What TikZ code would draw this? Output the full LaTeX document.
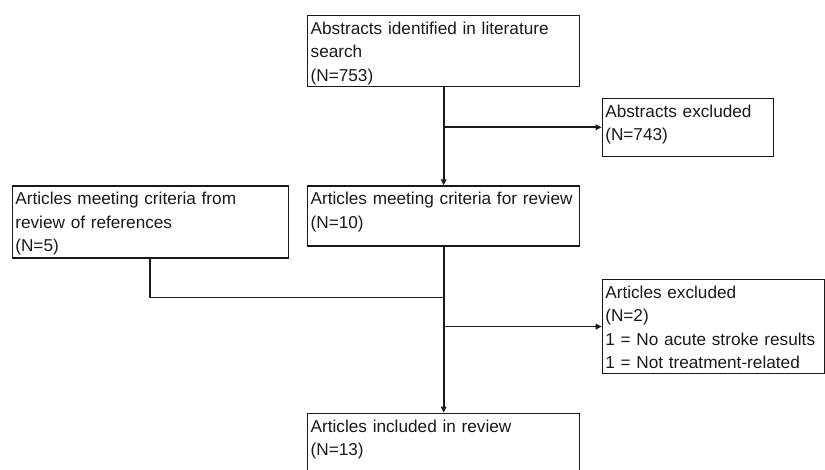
\documentclass[tikz,border=0pt]{standalone}
\usepackage{fontspec}
\setmainfont{Liberation Sans}
\usetikzlibrary{arrows.meta,positioning}
\definecolor{FlowInk}{gray}{0.1}
\hyphenpenalty=10000

\begin{document}
\begin{tikzpicture}[
  x=1pt,y=1pt,
  stage/.style={draw=FlowInk,line width=1.3pt,text=FlowInk,align=left,inner xsep=3pt,inner ysep=0pt,text height=19pt,font=\fontsize{17.2}{23.3}\selectfont},
  link/.style={line width=1.8pt,draw=FlowInk},
  arrow/.style={link,-{Triangle[length=6pt,width=5.5pt]}},
  node distance=98pt and 18pt]
  \clip (0,0) rectangle (825,-470);
  \node[stage,text width=266pt,text depth=52pt,anchor=north west] (found) at (307,-15) {Abstracts identified in literature\\search\\(N=753)};
  \node[stage,text width=266pt,text depth=41pt,below=of found] (review) {Articles meeting criteria for review\\(N=10)};
  \node[stage,text width=266pt,text depth=90pt,below=166pt of review] (included) {Articles included in review\\(N=13)};
  \node[stage,text width=270pt,text depth=53pt,left=of review.north west,anchor=north east] (refs) {Articles meeting criteria from\\review of references\\(N=5)};
  \coordinate[below=40pt of found] (cut1);
  \coordinate[below=80pt of review] (cut2);
  \coordinate[below=51pt of review] (merge);
  \node[stage,text width=165pt,text depth=39pt,right=158pt of cut1] (dropped) {Abstracts excluded\\(N=743)};
  \node[stage,text width=216pt,text depth=75pt,right=158pt of cut2] (excluded) {Articles excluded\\(N=2)\\1 = No acute stroke results\\1 = Not treatment-related};
  \draw[arrow] (found) -- (review);
  \draw[arrow] (cut1) -- (dropped);
  \draw[arrow] (review) -- (included);
  \draw[arrow] (cut2) -- (excluded);
  \draw[link] (refs) |- (merge);
\end{tikzpicture}
\end{document}
